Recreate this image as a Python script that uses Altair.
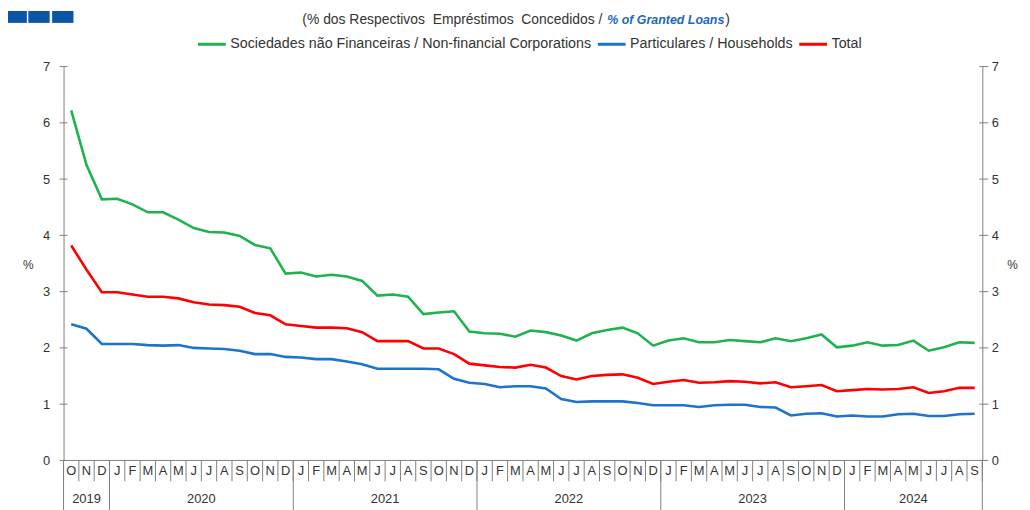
import altair as alt
import pandas as pd

months = ["O", "N", "D"] + ["J", "F", "M", "A", "M", "J", "J", "A", "S", "O", "N", "D"] * 4 + \
         ["J", "F", "M", "A", "M", "J", "J", "A", "S"]
years = [2019] * 3 + [2020] * 12 + [2021] * 12 + [2022] * 12 + [2023] * 12 + [2024] * 9

nfc = [6.22, 5.25, 4.64, 4.65, 4.55, 4.41, 4.41, 4.28, 4.13, 4.06, 4.05, 3.99,
       3.83, 3.77, 3.32, 3.34, 3.27, 3.30, 3.27, 3.19, 2.93, 2.95, 2.91, 2.60,
       2.63, 2.65, 2.29, 2.26, 2.25, 2.20, 2.31, 2.28, 2.22, 2.13, 2.26, 2.32,
       2.36, 2.26, 2.04, 2.13, 2.17, 2.10, 2.10, 2.14, 2.12, 2.10, 2.17, 2.12,
       2.17, 2.24, 2.01, 2.04, 2.10, 2.04, 2.05, 2.13, 1.95, 2.01, 2.10, 2.09]
households = [2.42, 2.34, 2.07, 2.07, 2.07, 2.05, 2.04, 2.05, 2.00, 1.99, 1.98, 1.95,
              1.89, 1.89, 1.84, 1.83, 1.80, 1.80, 1.76, 1.71, 1.63, 1.63, 1.63, 1.63,
              1.62, 1.45, 1.38, 1.36, 1.30, 1.32, 1.32, 1.28, 1.09, 1.04, 1.05, 1.05,
              1.05, 1.02, 0.98, 0.98, 0.98, 0.95, 0.98, 0.99, 0.99, 0.95, 0.94, 0.80,
              0.83, 0.84, 0.78, 0.80, 0.78, 0.78, 0.82, 0.83, 0.79, 0.79, 0.82, 0.83]
total = [3.82, 3.39, 2.99, 2.99, 2.95, 2.91, 2.91, 2.88, 2.81, 2.77, 2.76, 2.73,
         2.62, 2.58, 2.42, 2.39, 2.36, 2.36, 2.35, 2.28, 2.12, 2.12, 2.12, 1.99,
         1.99, 1.89, 1.72, 1.69, 1.66, 1.65, 1.70, 1.65, 1.50, 1.44, 1.50, 1.52,
         1.53, 1.47, 1.36, 1.40, 1.43, 1.38, 1.39, 1.41, 1.40, 1.37, 1.39, 1.30,
         1.32, 1.34, 1.23, 1.25, 1.27, 1.26, 1.27, 1.30, 1.20, 1.23, 1.29, 1.29]

names = ["Sociedades não Financeiras / Non-financial Corporations",
         "Particulares / Households", "Total"]
colors = ["#1fb24e", "#1c74cc", "#fe0000"]
y_ticks = [0, 1, 2, 3, 4, 5, 6, 7]

subtitle_pt = "(% dos Respectivos\u00a0 Empréstimos\u00a0 Concedidos /"
subtitle_en = "% of Granted Loans"

W, H = 926, 397
FONT = "Liberation Sans"
AX = "#808080"
TXT = "#333333"

rows = []
for name, vals in zip(names, [nfc, households, total]):
    for i, v in enumerate(vals):
        rows.append({"i": i, "s": name, "v": v})
df = pd.DataFrame(rows)

n = len(months)
mdf = pd.DataFrame({"i": list(range(n)), "m": months, "yr": years})
bdf = pd.DataFrame({
    "b": list(range(n + 1)),
    "long": [b == 0 or b == n or years[b] != years[b - 1] for b in range(n + 1)],
})
tdf = pd.DataFrame({"t": y_ticks})
one = pd.DataFrame({"k": [0]})

xs = alt.Scale(domain=[0, n], nice=False, zero=False)
ys = alt.Scale(domain=[0, 7], nice=False)

lines = alt.Chart(df).transform_calculate(xc="datum.i + 0.5").mark_line(strokeWidth=2.6).encode(
    x=alt.X("xc:Q", scale=xs, axis=None),
    y=alt.Y("v:Q", scale=ys, axis=None),
    color=alt.Color("s:N", scale=alt.Scale(domain=names, range=colors),
                    legend=alt.Legend(title=None, orient="none", legendX=134, legendY=-38,
                                      direction="horizontal", symbolType="stroke",
                                      symbolSize=784, symbolStrokeWidth=3,
                                      labelFont=FONT, labelFontSize=14.4, labelColor=TXT,
                                      labelLimit=0, columnPadding=0, labelOffset=3,
                                      padding=0)),
)

left_ax = alt.Axis(orient="left", values=y_ticks, format="d", ticks=False, domain=True,
                   domainColor=AX, grid=False, labelFont=FONT, labelFontSize=13,
                   labelColor=TXT, labelPadding=14, title="%", titleAngle=0,
                   titleX=-36, titleY=200, titleFont=FONT, titleFontSize=12,
                   titleFontWeight="normal", titleColor=TXT, titleAlign="center",
                   titleBaseline="middle")
right_ax = alt.Axis(orient="right", values=y_ticks, format="d", ticks=False, domain=True,
                    domainColor=AX, grid=False, labelFont=FONT, labelFontSize=13,
                    labelColor=TXT, labelPadding=9, title="%", titleAngle=0,
                    titleX=30, titleY=200, titleFont=FONT, titleFontSize=12,
                    titleFontWeight="normal", titleColor=TXT, titleAlign="center",
                    titleBaseline="middle")

lt = alt.Chart(tdf).mark_rule(color=AX).encode(
    y=alt.Y("t:Q", scale=ys, axis=left_ax), x=alt.value(-4), x2=alt.value(4))
rt = alt.Chart(tdf).mark_rule(color=AX).encode(
    y=alt.Y("t:Q", scale=ys, axis=right_ax), x=alt.value(W - 3), x2=alt.value(W + 6))

base_line = alt.Chart(one).mark_rule(color=AX).encode(
    x=alt.value(0), x2=alt.value(W), y=alt.value(H))

sep_short = alt.Chart(bdf).mark_rule(color=AX).encode(
    x=alt.X("b:Q", scale=xs, axis=None), y=alt.value(H), y2=alt.value(H + 21))
sep_long = alt.Chart(bdf).transform_filter("datum.long").mark_rule(color=AX).encode(
    x=alt.X("b:Q", scale=xs, axis=None), y=alt.value(H), y2=alt.value(H + 70))

mtext = alt.Chart(mdf).transform_calculate(xc="datum.i + 0.5").mark_text(
    font=FONT, fontSize=13, color=TXT, baseline="alphabetic").encode(
    x=alt.X("xc:Q", scale=xs, axis=None), y=alt.value(H + 15), text="m:N")

ytext = alt.Chart(mdf).transform_aggregate(
    lo="min(i)", hi="max(i)", groupby=["yr"]).transform_calculate(
    xc="(datum.lo + datum.hi + 1) / 2").mark_text(
    font=FONT, fontSize=13, color=TXT, baseline="alphabetic").encode(
    x=alt.X("xc:Q", scale=xs, axis=None), y=alt.value(H + 43), text="yr:N")

sub1 = alt.Chart(one).mark_text(text=subtitle_pt, align="right", baseline="alphabetic",
                                font=FONT, fontSize=14, color=TXT).encode(
    x=alt.value(543), y=alt.value(-43))
sub2 = alt.Chart(one).mark_text(text=subtitle_en, align="left", baseline="alphabetic",
                                font=FONT, fontSize=12.5, fontWeight="bold", fontStyle="italic",
                                color="#2468b8").encode(
    x=alt.value(548), y=alt.value(-43))
sub3 = alt.Chart(one).mark_text(text=")", align="left", baseline="alphabetic",
                                font=FONT, fontSize=14, color=TXT).encode(
    x=alt.value(667), y=alt.value(-43))

logo = alt.layer(*[
    alt.Chart(one).mark_rect(color="#0b56a4").encode(
        x=alt.value(a), x2=alt.value(b), y=alt.value(-56), y2=alt.value(-44))
    for a, b in [(-56, -37), (-35.5, -14), (-11.5, 10)]
])

chart = alt.layer(
    sep_short, sep_long, base_line, lt, rt, mtext, ytext, sub1, sub2, sub3, logo, lines
).resolve_axis(y="independent").properties(
    width=W, height=H,
    autosize=alt.AutoSizeParams(type="none"),
    padding={"left": 56, "top": 57, "right": 40, "bottom": 56},
).configure_view(stroke=None)

chart.save("out.html", embed_options={"renderer": "svg", "actions": False})
